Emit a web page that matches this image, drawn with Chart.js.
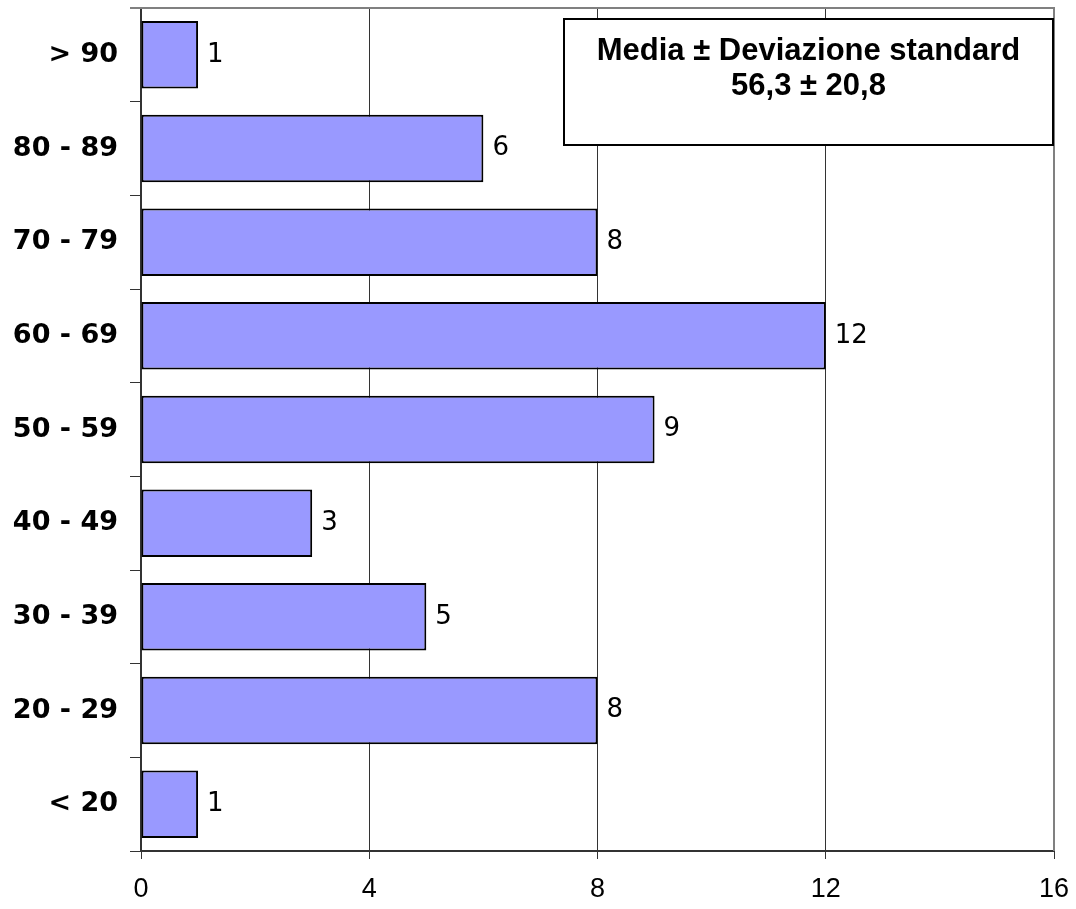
<!DOCTYPE html>
<html>
<head>
<meta charset="utf-8">
<script src="https://cdn.jsdelivr.net/npm/chart.js@4/dist/chart.umd.min.js"></script>
<style>
    html, body { margin: 0; padding: 0; background: #fff; }
    #wrap { width: 1076px; height: 909px; }
</style>
</head>
<body>
<div id="wrap"><canvas id="ageChart"></canvas></div>
<script>
const classiEta = ['> 90', '80 - 89', '70 - 79', '60 - 69', '50 - 59', '40 - 49', '30 - 39', '20 - 29', '< 20'];
const numeroPazienti = [1, 6, 8, 12, 9, 3, 5, 8, 1];
const tickAsseX = [0, 4, 8, 12, 16];
const riquadroTesto = ['Media \u00b1 Deviazione standard', '56,3 \u00b1 20,8'];

// etichette numeriche accanto alle barre
const valueLabels = {
    id: 'valueLabels',
    afterDatasetsDraw(chart) {
        const ctx = chart.ctx;
        const meta = chart.getDatasetMeta(0);
        ctx.save();
        ctx.font = '26px "DejaVu Sans"';
        ctx.fillStyle = '#000';
        ctx.textBaseline = 'middle';
        ctx.textAlign = 'left';
        meta.data.forEach((bar, i) => {
            ctx.fillText(String(numeroPazienti[i]), bar.x + 9, bar.y);
        });
        ctx.restore();
    }
};

// bordo grigio dell'area del grafico + riquadro media
const frameAndBox = {
    id: 'frameAndBox',
    beforeDatasetsDraw(chart) {
        const { ctx, chartArea } = chart;
        ctx.save();
        ctx.strokeStyle = '#808080';
        ctx.lineWidth = 2;
        ctx.beginPath();
        ctx.moveTo(chartArea.left - 11, chartArea.top);
        ctx.lineTo(chartArea.right, chartArea.top);
        ctx.lineTo(chartArea.right, chartArea.bottom);
        ctx.stroke();
        ctx.restore();
    },
    afterDraw(chart) {
        const { ctx, chartArea } = chart;
        const x0 = chartArea.left + 423;
        const y0 = chartArea.top + 11;
        const w = chartArea.right - 1 - x0;
        const h = 126;
        ctx.save();
        ctx.fillStyle = '#fff';
        ctx.fillRect(x0, y0, w, h);
        ctx.strokeStyle = '#000';
        ctx.lineWidth = 2;
        ctx.strokeRect(x0, y0, w, h);
        ctx.fillStyle = '#000';
        ctx.font = 'bold 31px "Liberation Sans", Arial';
        ctx.textAlign = 'center';
        ctx.textBaseline = 'alphabetic';
        ctx.fillText(riquadroTesto[0], x0 + w / 2, y0 + 41);
        ctx.fillText(riquadroTesto[1], x0 + w / 2, y0 + 76);
        ctx.restore();
    }
};

const ctx = document.getElementById('ageChart');

new Chart(ctx, {
    type: 'bar',
    data: {
        labels: classiEta,
        datasets: [{
            data: numeroPazienti,
            backgroundColor: '#9999ff',
            borderColor: '#000',
            borderWidth: 2,
            borderSkipped: false,
            barPercentage: 0.72,
            categoryPercentage: 1
        }]
    },
    options: {
        indexAxis: 'y',
        responsive: true,
        maintainAspectRatio: false,
        animation: false,
        layout: {
            padding: { top: 8, right: 22, left: 0, bottom: 0 }
        },
        plugins: {
            legend: { display: false },
            tooltip: { enabled: false }
        },
        scales: {
            x: {
                min: 0,
                max: 16,
                afterBuildTicks(axis) {
                    axis.ticks = tickAsseX.map(v => ({ value: v }));
                },
                afterFit(axis) {
                    axis.height = 58;
                    axis.paddingLeft = 0;
                    axis.paddingRight = 0;
                },
                grid: {
                    color: '#333',
                    lineWidth: 1,
                    tickLength: 8,
                    drawTicks: true
                },
                border: { color: '#333', width: 2 },
                ticks: {
                    color: '#000',
                    font: { family: '"Liberation Sans", Arial', size: 27 },
                    padding: 14
                }
            },
            y: {
                afterFit(axis) {
                    axis.width = 141;
                    axis.paddingTop = 0;
                    axis.paddingBottom = 0;
                },
                grid: {
                    drawOnChartArea: false,
                    color: '#333',
                    tickLength: 11,
                    offset: true
                },
                border: { color: '#333', width: 2 },
                ticks: {
                    color: '#000',
                    font: { family: '"DejaVu Sans", Verdana', size: 27, weight: 'bold' },
                    padding: 12
                }
            }
        }
    },
    plugins: [frameAndBox, valueLabels]
});
</script>
</body>
</html>
